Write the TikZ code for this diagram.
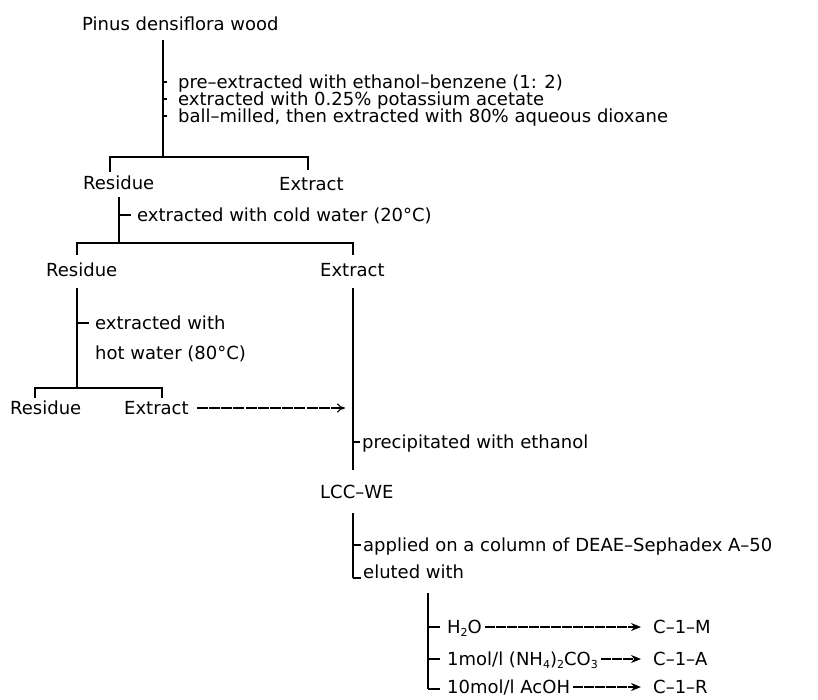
\documentclass[tikz,border=0pt]{standalone}
\usepackage{fontspec}
\setmainfont{DejaVu Sans}
\usetikzlibrary{arrows.meta}
\newcommand{\chsub}[1]{\raisebox{-0.35ex}{\fontsize{11}{12}\selectfont #1}}
\tikzset{
  txt/.style={anchor=west, inner sep=0pt, text height=13pt, text depth=0pt,
    font=\fontsize{18}{20}\selectfont},
  ln/.style={line width=1.9pt},
  tk/.style={line width=1.4pt},
  feed/.style={line width=1.1pt, dash pattern=on 11pt off 1.2pt,
    -{To[length=8pt,width=9pt]}},
  elu/.style={line width=1.3pt, dash pattern=on 10pt off 1pt,
    -{Stealth[length=10pt,width=8pt]}},
}
\begin{document}
\begin{tikzpicture}[x=1pt,y=-1pt]
  \useasboundingbox (0,0) rectangle (818,699);

  % uzly s textem
  \node[txt] (wood) at (82,24) {Pinus densiflora wood};
  \node[txt] (s1) at (178,82) {pre–extracted with ethanol–benzene (1: 2)};
  \node[txt] (s2) at (178,99) {extracted with 0.25\% potassium acetate};
  \node[txt] (s3) at (178,116) {ball–milled, then extracted with 80\% aqueous dioxane};
  \node[txt] (res1) at (83,183) {Residue};
  \node[txt] (ex1) at (279,184) {Extract};
  \node[txt] (cold) at (137,215) {extracted with cold water (20°C)};
  \node[txt] (res2) at (46,270) {Residue};
  \node[txt] (ex2) at (320,270) {Extract};
  \node[txt] (hot1) at (95,323) {extracted with};
  \node[txt] (hot2) at (95,353) {hot water (80°C)};
  \node[txt] (res3) at (10,408) {Residue};
  \node[txt] (ex3) at (124,408) {Extract};
  \node[txt] (prec) at (362,442) {precipitated with ethanol};
  \node[txt] (lcc) at (320,492) {LCC–WE};
  \node[txt] (appl) at (363,545) {applied on a column of DEAE–Sephadex A–50};
  \node[txt] (elut) at (363,572) {eluted with};
  \node[txt] (water) at (447,627) {H\chsub{2}O};
  \node[txt] (ammo) at (447,659) {1mol/l (NH\chsub{4})\chsub{2}CO\chsub{3}};
  \node[txt] (acid) at (447,687) {10mol/l AcOH};
  \node[txt] (cm) at (653,627) {C–1–M};
  \node[txt] (ca) at (653,659) {C–1–A};
  \node[txt] (cr) at (653,687) {C–1–R};

  % svislice
  \coordinate (v0t) at (163,40);  \coordinate (v0b) at (163,157);
  \coordinate (v1t) at (119,197); \coordinate (v1b) at (119,243);
  \coordinate (v2t) at (77,288);  \coordinate (v2b) at (77,388);
  \coordinate (v3t) at (353,288); \coordinate (v3b) at (353,470);
  \coordinate (v4t) at (353,513); \coordinate (v4b) at (353,578);
  \coordinate (v5t) at (428,593); \coordinate (v5b) at (428,689);

  \draw[ln] (v0t) -- (v0b);
  \draw[ln] (v1t) -- (v1b);
  \draw[ln] (v2t) -- (v2b);
  \draw[ln] (v3t) -- (v3b);
  \draw[ln] (v4t) -- (v4b);
  \draw[ln] (v5t) -- (v5b);

  % rozvetveni
  \draw[ln] (110,172) -- (110,157) -- (308,157) -- (308,170);
  \draw[ln] (v2t |- v1b) ++(0,12) -- (v2t |- v1b) -- (v3t |- v1b) -- ++(0,12);
  \draw[ln] (35,398) -- (35,388) -- (162,388) -- (162,398);

  % odbocky ke krokum
  \foreach \n in {s1,s2,s3}
    \draw[tk] (v0t |- \n.west) -- ++(4,0);
  \draw[tk] (v1t |- cold.west) -- ++(12,0);
  \draw[tk] (v2t |- hot1.west) -- ++(12,0);
  \draw[tk] (v3t |- prec.west) -- ++(7,0);
  \draw[tk] (v4t |- appl.west) -- ++(8,0);
  \draw[tk] (v4b) -- ++(8,0);
  \foreach \n in {water,ammo}
    \draw[tk] (v5t |- \n.west) -- ++(12,0);
  \draw[tk] (v5b) -- ++(12,0);

  % sipky
  \draw[feed] ([xshift=8pt]ex3.east) -- ([xshift=-8pt]v3t |- ex3.west);
  \draw[elu] ([xshift=3pt]water.east) -- ([xshift=-12pt]cm.west);
  \draw[elu] ([xshift=3pt]ammo.east) -- ([xshift=-12pt]ca.west);
  \draw[elu] ([xshift=3pt]acid.east) -- ([xshift=-12pt]cr.west);
\end{tikzpicture}
\end{document}
